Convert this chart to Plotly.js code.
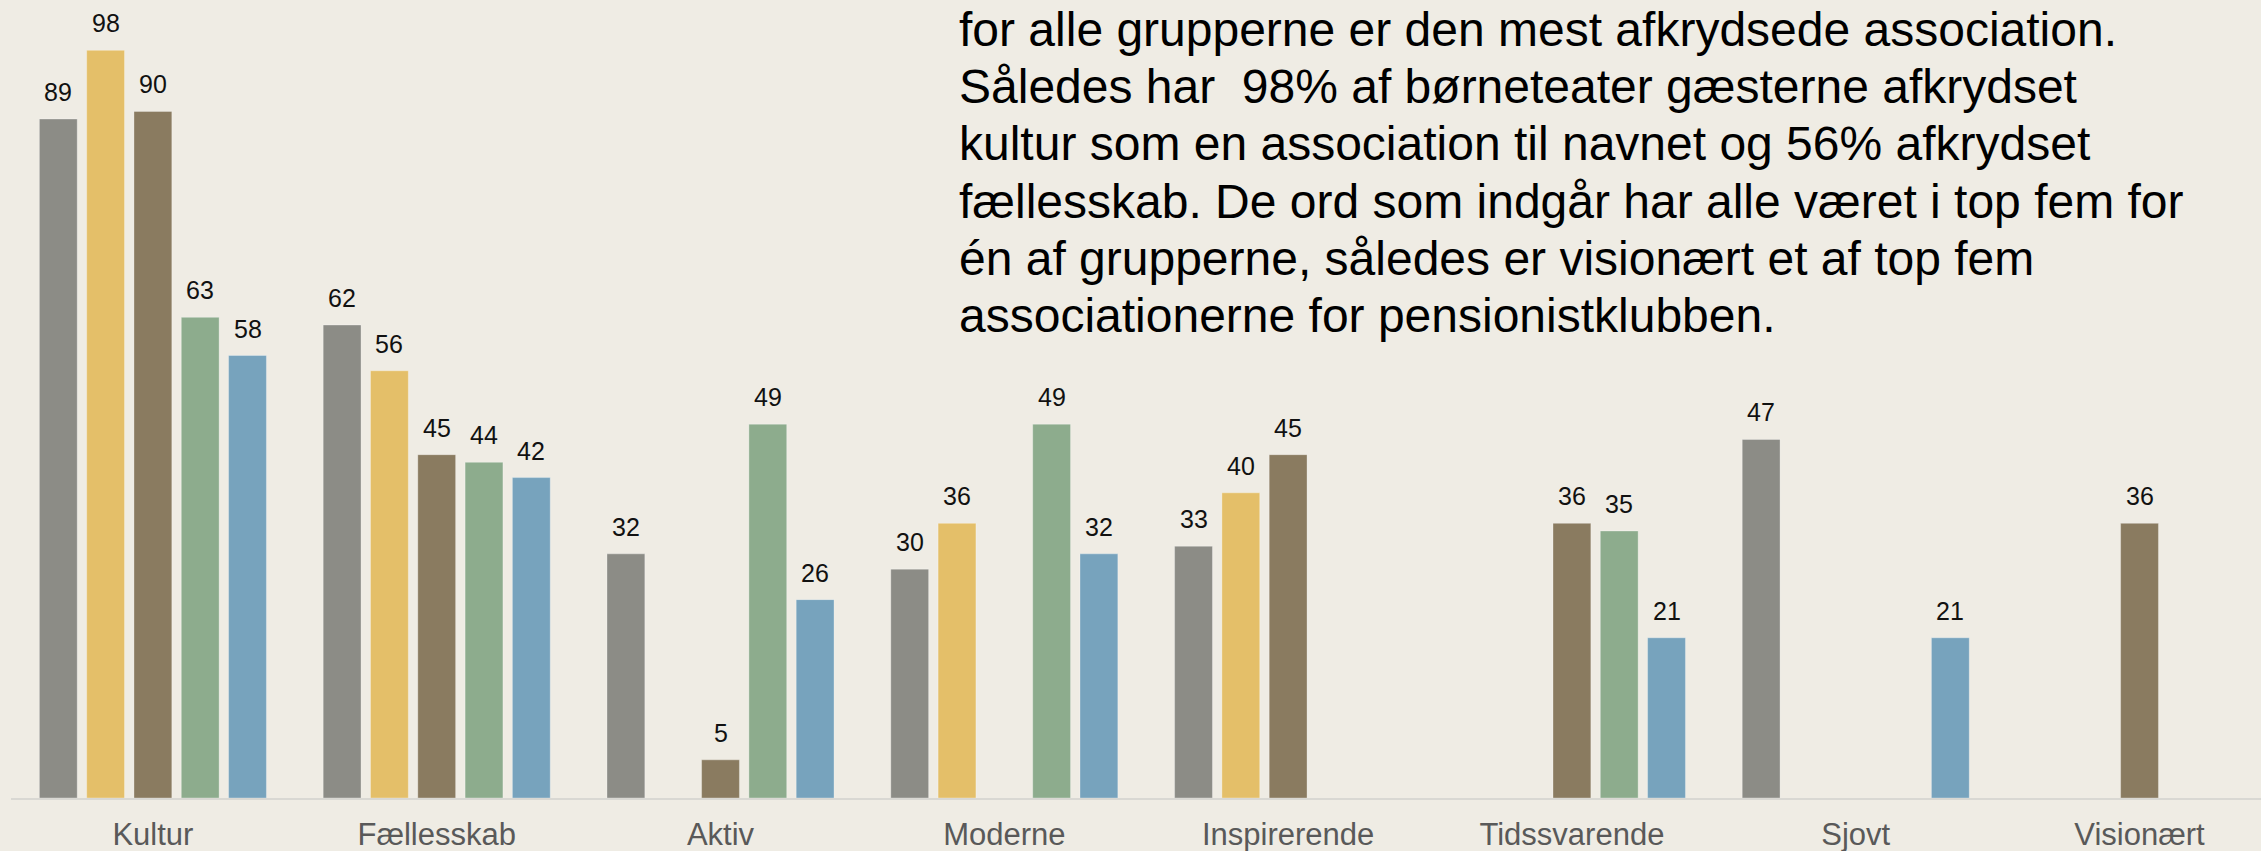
<!DOCTYPE html>
<html>
<head>
<meta charset="utf-8">
<script src="https://cdn.plot.ly/plotly-3.0.1.min.js"></script>
<style>html,body{margin:0;padding:0;background:#EFECE4;}</style>
</head>
<body>
<div id="chart" style="width:2261px;height:851px;"></div>
<script>
var categories = ['Kultur','Fællesskab','Aktiv','Moderne','Inspirerende','Tidssvarende','Sjovt','Visionært'];
var seriesNames = ['Gruppe 1','Gruppe 2','Gruppe 3','Gruppe 4','Gruppe 5'];
var grey   = [89, 62, 32, 30, 33, null, 47, null];
var yellow = [98, 56, null, 36, 40, null, null, null];
var brown  = [90, 45, 5, null, 45, 36, null, 36];
var green  = [63, 44, 49, 49, null, 35, null, null];
var blue   = [58, 42, 26, 32, null, 21, 21, null];
var textLines = [
  'for alle grupperne er den mest afkrydsede association.',
  'Således har  98% af børneteater gæsterne afkrydset',
  'kultur som en association til navnet og 56% afkrydset',
  'fællesskab. De ord som indgår har alle været i top fem for',
  'én af grupperne, således er visionært et af top fem',
  'associationerne for pensionistklubben.'
];

var series = [grey, yellow, brown, green, blue];
var colors = ['#8C8C86', '#E4BF69', '#8A7B60', '#8DAC8D', '#77A3BD'];
var FONT = '"Liberation Sans", Arial, sans-serif';

var traces = series.map(function(vals, s) {
  return {
    type: 'bar',
    name: seriesNames[s],
    x: categories,
    y: vals,
    marker: {color: colors[s], line: {width: 1, color: 'rgba(255,255,255,0.3)'}},
    hoverinfo: 'x+y+name'
  };
});

var annotations = [];
var nS = series.length;
series.forEach(function(vals, s) {
  vals.forEach(function(v, i) {
    if (v === null) return;
    annotations.push({
      x: i + (s - (nS - 1) / 2) / (nS + 1),
      y: v,
      xref: 'x', yref: 'y',
      text: String(v),
      showarrow: false,
      yanchor: 'bottom',
      yshift: 11,
      font: {family: FONT, size: 25, color: '#111111'}
    });
  });
});

textLines.forEach(function(line, k) {
  annotations.push({
    x: 0.4205, y: 1, xref: 'paper', yref: 'paper',
    xanchor: 'left', yanchor: 'top', align: 'left',
    yshift: -1 - k * 57.2,
    text: line, showarrow: false,
    font: {family: FONT, size: 48, color: '#000000'}
  });
});

var layout = {
  width: 2261, height: 851,
  paper_bgcolor: '#EFECE4', plot_bgcolor: '#EFECE4',
  margin: {l: 11, r: 0, t: 0, b: 53},
  showlegend: false,
  barmode: 'group',
  bargap: 1/6,
  bargroupgap: 0.2,
  font: {family: FONT},
  xaxis: {
    type: 'category',
    range: [-0.5, 7.428],
    showline: true, linecolor: '#D9D8D3', linewidth: 2,
    ticks: '', showgrid: false, zeroline: false,
    ticklabelstandoff: 8,
    tickfont: {family: FONT, size: 31, color: '#595959'}
  },
  yaxis: {
    range: [0, 104.6],
    visible: false, showgrid: false, zeroline: false
  },
  annotations: annotations
};

Plotly.newPlot('chart', traces, layout, {displayModeBar: false, staticPlot: true});
</script>
</body>
</html>
